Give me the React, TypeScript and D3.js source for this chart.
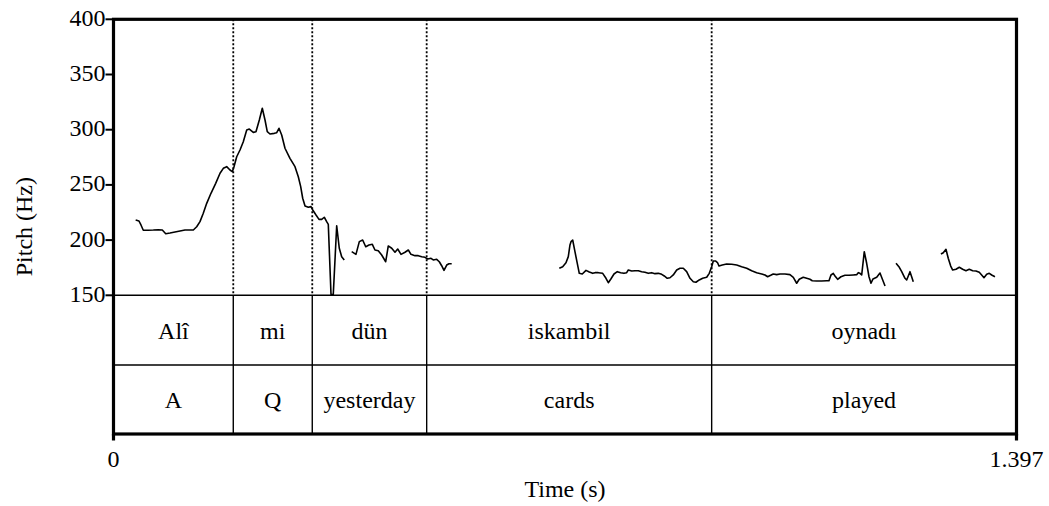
import React from "react";
import * as d3 from "d3";

// Time in ms, pitch in Hz
const seg1: [number, number][] = [
  [34.3, 218.2], [39.4, 217.3], [42.5, 213.7], [46.1, 208.9], [53.8, 208.9], [61.6, 209.1], [69.3, 209.4], [75.5, 209.1],
  [80.8, 205.8], [87.4, 206.4], [95.1, 207.3], [102.9, 208.2], [110.6, 209.1], [118.3, 209.1], [123.5, 209.1], [128.7, 212.1],
  [133.8, 216.7], [138.9, 224.3], [144.2, 233.3], [150.8, 242.4], [158.1, 251.4], [164.8, 260.5], [169.9, 265], [175.1, 266.5],
  [180.2, 263.5], [183.8, 262], [186.4, 266.5], [190.6, 275.5], [195.7, 281.6], [200.8, 289.1], [206.1, 299.7], [210.1, 300.6],
  [216.3, 297.6], [220.4, 298.2], [225.6, 308.8], [230.2, 319.4], [234.4, 308.8], [237.9, 298.2], [242.1, 296.1], [248.8, 296.7],
  [252.5, 297.3], [256, 301.3], [260.2, 295.2], [265.3, 283.2], [273.0, 274.1], [280.8, 266.5], [285.9, 257.4], [289.6, 248.4],
  [292.7, 237.9], [296.3, 230.9], [301.4, 229.7], [305.5, 230.3], [308.2, 227.3], [313.3, 222.7], [317.9, 218.8], [322.1, 218.8],
  [326.1, 220.7], [329.8, 216.7], [332.3, 214.3], [336.5, 150.7], [340.0, 150.7], [345.3, 213], [349.3, 192.6], [353.0, 185],
  [357.0, 182],
];
const seg2: [number, number][] = [
  [368.5, 189.5], [375.1, 187.1], [380.3, 198.6], [385.5, 200.1], [390.2, 194], [395.3, 195.6], [400.4, 196.2], [404.5, 191],
  [409.6, 190.4], [414.9, 186.5], [421.1, 180.4], [425.1, 194.7], [430.4, 192.6], [435.5, 189], [439.7, 191.9], [444.8, 187.1],
  [451.0, 189], [456.1, 191], [460.2, 187.1], [466.4, 185.9], [471.5, 185.9], [476.8, 185], [481.9, 184.4], [486.1, 182.9],
  [491.2, 183.5], [494.7, 182], [500.0, 182.6], [504.0, 180.4], [507.7, 176.8], [511.3, 172.6], [515.5, 177.4], [519.0, 178.6],
  [523.2, 178.6],
];
const seg3: [number, number][] = [
  [689.7, 174.5], [694.9, 175.9], [700.0, 179.5], [703.6, 185], [706.2, 195.6], [707.8, 198.6], [710.4, 200.1], [713.9, 189.5],
  [717.5, 179], [720.6, 169.9], [725.2, 169.3], [731.0, 172.6], [736.1, 171.1], [741.3, 169.9], [744.9, 170.5], [750.0, 170.5],
  [756.8, 169.9], [761.9, 165.4], [765.5, 161.4], [769.2, 164.5], [774.3, 169.3], [779.4, 171.4], [784.6, 170.5], [789.7, 169.9],
  [793.9, 170.5], [796.4, 172.9], [801.7, 172], [806.8, 172.3], [811.9, 172.3], [817.1, 171.4], [822.2, 170.8], [827.3, 169.9],
  [832.6, 170.5], [837.7, 169.6], [842.8, 169.9], [848.1, 169], [852.1, 167.5], [856.7, 165.4], [860.9, 165.9], [866.0, 168.4],
  [871.3, 172.9], [876.4, 174.5], [881.5, 174.5], [886.7, 171.4], [891.9, 165.4], [897.0, 162.3], [901.1, 161.8], [906.2, 163.9],
  [911.5, 165.4], [917.7, 166.3], [921.7, 169.9], [925.4, 175.9], [927.9, 181.1], [931.3, 181.1], [934.4, 179.7], [936.7, 176.5],
  [941.8, 177.4], [948.6, 178.4], [956.4, 178.1], [964.1, 177.4], [971.8, 175.9], [979.6, 174.5], [987.3, 172.3], [995.0, 170.5],
  [1002.8, 169.3], [1007.9, 168.4], [1012.0, 166.8], [1016.7, 168.1], [1020.7, 169.3], [1026.0, 168.7], [1031.1, 169.3],
  [1038.8, 169.3], [1046.5, 168.7], [1051.7, 166.3], [1056.9, 160.9], [1060.9, 164.5], [1067.1, 166.3], [1072.4, 165.4],
  [1077.5, 164.5], [1081.0, 163.2], [1087.8, 163], [1095.6, 163], [1103.3, 163.2], [1106.9, 163.2], [1110.0, 168.4],
  [1113.5, 169.9], [1116.2, 167.5], [1120.3, 164.5], [1125.4, 166.8], [1131.6, 168.1], [1137.8, 168.1], [1144.5, 168.4],
  [1149.7, 168.7], [1152.2, 170.5], [1154.8, 169.9], [1157.5, 168.4], [1161.5, 189.5], [1165.2, 179], [1168.8, 166.8],
  [1171.9, 160.9], [1175.0, 164.8], [1180.7, 166.3], [1185.8, 170.2], [1190.0, 163.9], [1193.6, 158.4],
];
const seg4: [number, number][] = [
  [1210.6, 179], [1215.7, 175.4], [1219.4, 171.4], [1224.5, 165.4], [1227.1, 163.9], [1229.6, 167.5], [1232.2, 171.4],
  [1234.8, 166.8], [1237.3, 162.3],
];
const seg5: [number, number][] = [
  [1280.1, 187.4], [1283.7, 188.6], [1287.9, 191.7], [1291.4, 183.5], [1295.2, 176.5], [1298.3, 172.9], [1303.4, 173.6],
  [1308.5, 175.4], [1313.7, 173.6], [1318.8, 172.3], [1323.9, 173.6], [1329.2, 172.3], [1334.3, 172], [1339.4, 170.8],
  [1343.1, 168.4], [1346.7, 165.9], [1350.9, 169], [1354.9, 169.9], [1358.6, 168.4], [1363.7, 166.8],
];
const segments = [seg1, seg2, seg3, seg4, seg5];

const boundaries = [0, 185.3, 307.5, 484.5, 925.4, 1397];
const words = ["Alî", "mi", "dün", "iskambil", "oynadı"];
const glosses = ["A", "Q", "yesterday", "cards", "played"];
const yTicks = [150, 200, 250, 300, 350, 400];
const xTickValues = [0, 1397];
const xTickLabels = ["0", "1.397"];

const LEFT = 113.5;
const RIGHT = 1016.5;
const TOP = 19.3;
const PBOTTOM = 295.3;
const TIERMID = 365;
const BOTTOM = 434;
const FONT = "'Liberation Serif', 'Times New Roman', Times, serif";

export default function App() {
  const x = d3.scaleLinear().domain([0, 1397]).range([LEFT, RIGHT]);
  const y = d3.scaleLinear().domain([150, 400]).range([PBOTTOM, TOP]);
  const line = d3
    .line<[number, number]>()
    .x((d) => x(d[0]))
    .y((d) => y(d[1]));
  const inner = boundaries.slice(1, -1);

  return (
    <svg
      width={1049}
      height={506}
      style={{ position: "absolute", left: 0, top: 0, background: "#fff" }}
      fontFamily={FONT}
      fontSize={24}
    >
      <rect x={0} y={0} width={1049} height={506} fill="#fff" />
      {inner.map((b, i) => (
        <line key={"d" + i} x1={x(b)} x2={x(b)} y1={TOP} y2={PBOTTOM} stroke="#000" strokeWidth={1.8} strokeDasharray="2,2" />
      ))}
      {inner.map((b, i) => (
        <line key={"s" + i} x1={x(b)} x2={x(b)} y1={PBOTTOM} y2={BOTTOM} stroke="#000" strokeWidth={1.4} />
      ))}
      <line x1={LEFT} x2={RIGHT} y1={PBOTTOM} y2={PBOTTOM} stroke="#000" strokeWidth={1.5} />
      <line x1={LEFT} x2={RIGHT} y1={TIERMID} y2={TIERMID} stroke="#000" strokeWidth={1.4} />
      {segments.map((s, i) => (
        <path key={"p" + i} d={line(s) || ""} fill="none" stroke="#000" strokeWidth={1.6} strokeLinejoin="round" />
      ))}
      <rect x={LEFT} y={TOP} width={RIGHT - LEFT} height={BOTTOM - TOP} fill="none" stroke="#000" strokeWidth={3.2} />
      {yTicks.map((t) => (
        <g key={"y" + t}>
          <line x1={LEFT - 8} x2={LEFT} y1={y(t)} y2={y(t)} stroke="#000" strokeWidth={2} />
          <text x={LEFT - 8} y={y(t) + 6.5} textAnchor="end" fill="#000">
            {t}
          </text>
        </g>
      ))}
      {xTickValues.map((t, i) => (
        <g key={"x" + t}>
          <line x1={x(t)} x2={x(t)} y1={BOTTOM} y2={BOTTOM + 6.5} stroke="#000" strokeWidth={3.2} />
          <text x={x(t)} y={467} textAnchor="middle" fill="#000">
            {xTickLabels[i]}
          </text>
        </g>
      ))}
      {words.map((w, i) => (
        <text key={"w" + i} x={(x(boundaries[i]) + x(boundaries[i + 1])) / 2} y={338.5} textAnchor="middle" fill="#000">
          {w}
        </text>
      ))}
      {glosses.map((w, i) => (
        <text key={"g" + i} x={(x(boundaries[i]) + x(boundaries[i + 1])) / 2} y={408} textAnchor="middle" fill="#000">
          {w}
        </text>
      ))}
      <text x={(LEFT + RIGHT) / 2} y={497} textAnchor="middle" fill="#000">
        Time (s)
      </text>
      <text transform={`translate(32,${(TOP + BOTTOM) / 2}) rotate(-90)`} textAnchor="middle" fill="#000">
        Pitch (Hz)
      </text>
    </svg>
  );
}
